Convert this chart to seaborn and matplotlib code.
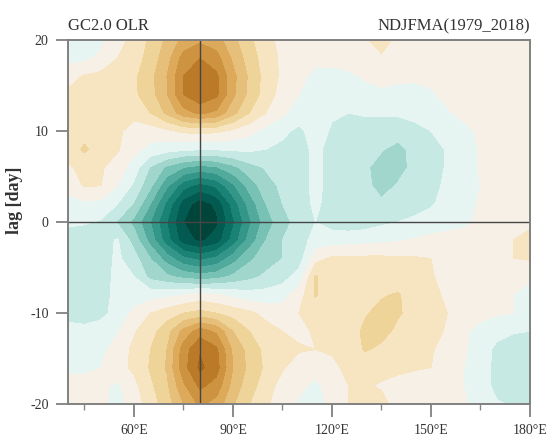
import matplotlib
matplotlib.use("Agg")
import matplotlib.pyplot as plt
from matplotlib.colors import ListedColormap
from matplotlib.ticker import MultipleLocator
import numpy as np
import seaborn as sns

# longitude (deg E) and lag (day) of the composite grid
LON = [40, 45, 50, 55, 60, 65, 70, 75, 80, 85, 90, 95, 100, 105, 110,
       115, 120, 125, 130, 135, 140, 145, 150, 155, 160, 165, 170, 175, 180]
LAG = [20, 18, 16, 14, 12, 10, 8, 6, 4, 2, 0,
       -2, -4, -6, -8, -10, -12, -14, -16, -18, -20]

# OLR anomaly composite (W m-2), one row per lag, top (lag 20) to bottom (lag -20)
OLR = [
    [-0.4, -0.4, -0.2, 0.6, 1.3, 2.2, 3.2, 4.3, 4.8, 4.4, 3.3, 2.2, 1.3, 0.7, 0.5,
     0.4, 0.5, 0.6, 0.9, 1.3, 0.8, 0.5, 0.5, 0.5, 0.5, 0.5, 0.4, 0.4, 0.4],
    [-0.3, -0.2, 0.2, 1.0, 1.5, 2.4, 3.6, 5.4, 6.0, 5.4, 3.8, 2.5, 1.5, 0.8, 0.4,
     0.2, 0.3, 0.4, 0.6, 0.9, 0.5, 0.3, 0.3, 0.4, 0.5, 0.5, 0.5, 0.4, 0.4],
    [0.6, 1.1, 1.3, 1.4, 1.8, 2.7, 4.0, 6.0, 6.8, 6.2, 4.3, 2.8, 1.6, 0.8, 0.2,
     -0.2, -0.3, -0.2, 0.1, 0.3, 0.2, 0.1, 0.2, 0.3, 0.4, 0.5, 0.5, 0.4, 0.4],
    [1.2, 1.3, 1.4, 1.5, 1.8, 2.6, 3.9, 6.0, 6.8, 6.2, 4.2, 2.7, 1.5, 0.6, 0.0,
     -0.4, -0.6, -0.5, -0.3, -0.2, -0.3, -0.2, -0.1, 0.2, 0.4, 0.5, 0.5, 0.4, 0.4],
    [1.2, 1.4, 1.4, 1.4, 1.3, 2.0, 3.2, 4.6, 5.2, 4.8, 3.3, 2.0, 1.0, 0.2, -0.5,
     -0.7, -0.9, -1.0, -0.9, -0.9, -0.9, -0.7, -0.4, -0.1, 0.3, 0.4, 0.5, 0.4, 0.4],
    [1.2, 1.5, 1.4, 1.2, 0.6, 0.5, 0.8, 1.2, 1.3, 1.2, 0.8, 0.3, -0.3, -0.8, -1.2,
     -0.6, -1.1, -1.4, -1.4, -1.4, -1.4, -1.3, -1.0, -0.6, -0.3, 0.2, 0.4, 0.4, 0.4],
    [1.3, 2.2, 1.4, 1.1, 0.3, -0.3, -0.6, -0.8, -0.9, -0.9, -0.8, -0.8, -1.0, -1.2, -1.5,
     -0.7, -1.4, -1.5, -1.6, -1.9, -2.4, -1.6, -1.4, -0.9, -0.5, 0.1, 0.3, 0.4, 0.4],
    [0.9, 1.2, 1.1, 0.6, -0.5, -2.1, -3.2, -4.0, -4.4, -4.1, -3.3, -2.4, -1.9, -1.6, -1.5,
     -0.7, -1.4, -1.6, -1.8, -2.5, -2.4, -1.7, -1.4, -0.9, -0.5, 0.1, 0.3, 0.4, 0.4],
    [0.3, 1.1, 1.0, 0.0, -1.2, -2.8, -4.8, -6.6, -7.4, -6.8, -5.2, -3.6, -2.4, -1.8, -1.5,
     -0.7, -1.4, -1.5, -1.7, -2.4, -1.9, -1.6, -1.3, -0.8, -0.4, 0.0, 0.3, 0.4, 0.4],
    [-0.3, -0.2, -0.3, -1.0, -2.1, -4.0, -6.3, -8.5, -9.5, -8.8, -6.6, -4.6, -3.0, -2.0, -1.5,
     -0.8, -1.4, -1.6, -1.7, -1.8, -1.6, -1.4, -1.1, -0.7, -0.3, 0.1, 0.3, 0.4, 0.4],
    [-0.8, -0.9, -1.1, -2.1, -3.3, -5.0, -7.0, -9.0, -10.4, -9.2, -7.2, -5.2, -3.5, -2.4, -1.6,
     -1.0, -1.4, -1.6, -1.5, -1.2, -1.0, -0.8, -0.6, -0.4, -0.2, 0.2, 0.4, 0.8, 0.8],
    [-1.5, -1.6, -1.4, -0.9, -2.4, -4.4, -6.6, -8.6, -9.2, -8.6, -6.6, -4.6, -3.0, -2.0, -1.5,
     -0.6, -0.5, -0.4, -0.3, -0.2, -0.1, 0.1, 0.3, 0.4, 0.4, 0.5, 0.6, 1.0, 1.3],
    [-1.6, -1.7, -1.5, -0.8, -1.6, -3.0, -4.5, -5.8, -6.3, -5.8, -4.5, -3.2, -2.5, -2.0, -1.5,
     0.6, 1.2, 1.2, 1.2, 1.2, 1.1, 1.1, 1.0, 0.6, 0.4, 0.5, 0.6, 1.0, 1.1],
    [-1.6, -1.7, -1.5, -0.7, -1.0, -2.3, -2.8, -3.3, -3.6, -3.4, -2.8, -2.3, -1.8, -1.4, -0.6,
     2.1, 1.2, 1.3, 1.5, 1.4, 1.3, 1.2, 1.1, 0.6, 0.3, 0.3, 0.2, 0.2, 0.1],
    [-1.5, -1.6, -1.4, -0.7, -0.5, -0.4, -0.3, 0.0, 0.3, 0.1, -0.3, -0.6, -0.6, -0.4, 0.5,
     2.1, 1.3, 1.5, 1.8, 1.9, 2.1, 1.5, 1.3, 0.8, 0.3, 0.2, 0.1, 0.0, -0.2],
    [-1.4, -1.5, -1.3, -0.6, 0.2, 1.0, 1.5, 2.0, 2.3, 2.0, 1.6, 1.2, 0.7, 0.5, 1.0,
     1.3, 1.2, 1.6, 1.9, 2.3, 2.1, 1.7, 1.4, 1.0, 0.4, 0.2, 0.1, 0.0, -0.2],
    [-0.6, -0.7, -0.5, -0.1, 0.9, 1.6, 2.6, 4.3, 5.5, 4.8, 3.0, 2.0, 1.4, 1.0, 0.8,
     1.1, 1.2, 1.5, 2.2, 2.3, 1.8, 1.5, 1.3, 0.9, 0.1, -0.2, -0.6, -0.9, -1.0],
    [-0.4, -0.5, -0.3, 0.5, 1.2, 2.0, 3.0, 5.5, 6.9, 6.2, 3.8, 2.6, 1.7, 1.3, 1.1,
     1.0, 1.1, 1.4, 2.1, 1.8, 1.5, 1.3, 1.1, 0.6, 0.1, -0.4, -1.3, -1.7, -1.6],
    [-0.2, -0.2, 0.0, 0.6, 1.2, 2.1, 3.1, 5.6, 7.2, 6.4, 4.0, 2.7, 1.8, 1.1, 0.5,
     0.3, 0.8, 1.2, 1.3, 1.3, 1.2, 1.1, 1.0, 0.5, 0.0, -0.5, -1.3, -1.7, -1.6],
    [0.3, 0.3, 0.2, -0.2, 0.7, 1.8, 2.8, 4.8, 6.2, 5.6, 3.6, 2.4, 1.5, 0.6, 0.2,
     -0.2, 0.4, 1.0, 1.1, 0.9, 0.7, 0.5, 0.4, 0.3, 0.0, -0.5, -1.3, -1.7, -1.6],
    [0.4, 0.4, 0.2, -0.3, 0.4, 1.5, 2.5, 4.0, 5.2, 4.6, 3.1, 2.0, 1.2, 0.3, -0.1,
     -0.3, 0.2, 1.0, 1.1, 1.3, 0.6, 0.4, 0.4, 0.3, 0.1, -0.4, -0.9, -1.1, -1.1],
]

LEVELS = list(range(-10, 11))
X_TICKS = [60, 90, 120, 150, 180]
X_LABELS = ["60°E", "90°E", "120°E", "150°E", "180°E"]
Y_TICKS = [-20, -10, 0, 10, 20]
REF_LON = 80
REF_LAG = 0

# teal (negative, enhanced convection) -> brown (positive, suppressed)
FILL_COLORS = [
    "#00443a", "#035a50", "#0a6e63", "#1b8276", "#339688",
    "#52aa9d", "#78c1b5", "#a1d6cd", "#c6e9e3", "#e6f4f2",
    "#f6f0e6", "#f6e5c0", "#efd49a", "#e6c07a", "#dcaa5a",
    "#cd9340", "#bb7a28", "#a3651a", "#8c5410", "#744208",
]

sns.set_theme(style="white")
plt.rcParams["font.family"] = ["Liberation Serif", "DejaVu Serif"]

cmap = ListedColormap(sns.color_palette(FILL_COLORS))

fig = plt.figure(figsize=(5.48, 4.45), dpi=100)
ax = fig.add_axes([0.124, 0.092, 0.843, 0.818])

lag = np.array(LAG)[::-1]
olr = np.array(OLR)[::-1]
ax.contourf(LON, lag, olr, levels=LEVELS, cmap=cmap, extend="both")

ax.axvline(REF_LON, color="#454545", lw=1.0)
ax.axhline(REF_LAG, color="#454545", lw=1.0)

ax.set_xlim(40, 180)
ax.set_ylim(-20, 20)
ax.set_xticks(X_TICKS, X_LABELS)
ax.xaxis.set_minor_locator(MultipleLocator(15))
ax.set_yticks(Y_TICKS, [str(t) for t in Y_TICKS])
ax.tick_params(axis="both", which="major", direction="out", length=9, width=1.2,
               color="#777777", labelsize=10, labelcolor="#333333", pad=5,
               bottom=True, left=True)
ax.tick_params(axis="x", which="minor", direction="out", length=4, width=1.0,
               color="#888888", bottom=True)
ax.tick_params(axis="y", which="minor", left=False)
for side in ax.spines.values():
    side.set_color("#808080")
    side.set_linewidth(1.4)

ax.set_ylabel("lag [day]", fontsize=13, fontweight="bold", color="#333333")
ax.yaxis.set_label_coords(-0.098, 0.56)
ax.set_title("GC2.0 OLR", loc="left", fontsize=12, color="#333333", pad=7)
ax.set_title("NDJFMA(1979_2018)", loc="right", fontsize=12, color="#333333", pad=7)

fig.savefig("out.png", dpi=100, facecolor="white")
